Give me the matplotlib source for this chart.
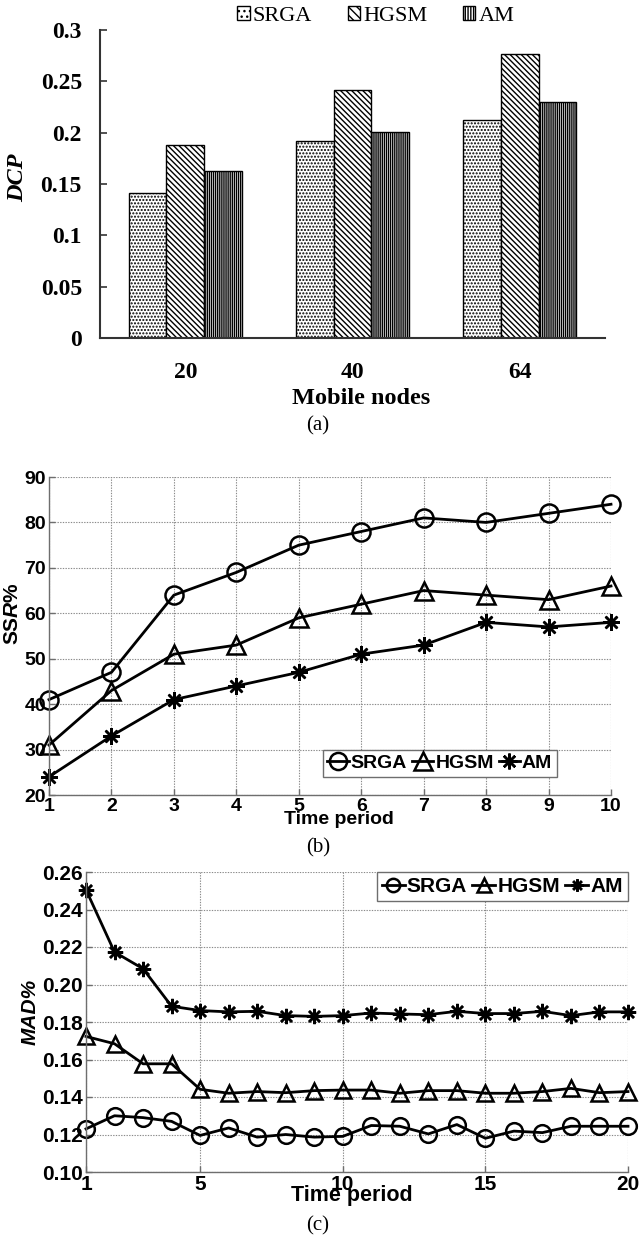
import matplotlib
matplotlib.use('Agg')
import matplotlib.pyplot as plt
from matplotlib.patches import Patch
import numpy as np

# ---------------- data ----------------
methods = ['SRGA', 'HGSM', 'AM']

# (a) DCP vs mobile nodes
nodes = ['20', '40', '64']
dcp_srga = [0.141, 0.192, 0.212]
dcp_hgsm = [0.188, 0.242, 0.277]
dcp_am = [0.163, 0.201, 0.230]
dcp_ticks = [0, 0.05, 0.1, 0.15, 0.2, 0.25, 0.3]
dcp_ticklabels = ['0', '0.05', '0.1', '0.15', '0.2', '0.25', '0.3']

# (b) SSR% vs time period
period_b = [1, 2, 3, 4, 5, 6, 7, 8, 9, 10]
ssr_srga = [41, 47, 64, 69, 75, 78, 81, 80, 82, 84]
ssr_hgsm = [31, 43, 51, 53, 59, 62, 65, 64, 63, 66]
ssr_am = [24, 33, 41, 44, 47, 51, 53, 58, 57, 58]
ssr_ticks = [20, 30, 40, 50, 60, 70, 80, 90]

# (c) MAD% vs time period
period_c = list(range(1, 21))
mad_srga = [0.123, 0.130, 0.129, 0.127, 0.1195, 0.1235, 0.1186, 0.120, 0.1186, 0.119,
            0.1248, 0.1244, 0.1203, 0.1253, 0.118, 0.1218, 0.121, 0.1244, 0.1244, 0.1244]
mad_hgsm = [0.1723, 0.1684, 0.1577, 0.1577, 0.1441, 0.142, 0.1429, 0.1423, 0.1434, 0.1437,
            0.1437, 0.142, 0.1434, 0.1434, 0.142, 0.142, 0.1429, 0.1446, 0.1423, 0.1429]
mad_am = [0.2505, 0.2173, 0.2084, 0.1884, 0.1861, 0.1854, 0.1857, 0.1834, 0.183, 0.1834,
          0.1848, 0.1843, 0.1839, 0.1857, 0.1845, 0.1845, 0.1857, 0.1834, 0.1854, 0.1854]
mad_ticks = [0.10, 0.12, 0.14, 0.16, 0.18, 0.20, 0.22, 0.24, 0.26]
mad_xticks = [1, 5, 10, 15, 20]

# ---------------- style ----------------
plt.rcParams['mathtext.fontset'] = 'custom'
plt.rcParams['mathtext.bf'] = 'Liberation Sans:bold'
plt.rcParams['mathtext.it'] = 'Liberation Sans:italic'
plt.rcParams['mathtext.bfit'] = 'Liberation Sans:italic:bold'
plt.rcParams['hatch.linewidth'] = 1.0

SERIF = 'Liberation Serif'
SANS = 'Liberation Sans'
GRAY = '#6e6e6e'

W, H = 640, 1237
fig = plt.figure(figsize=(W / 100, H / 100), dpi=100)


def box(l, t, r, b):
    return [l / W, 1 - b / H, (r - l) / W, (b - t) / H]


def fpos(x, y):
    return (x / W, 1 - y / H)


# ---------------- (a) ----------------
axa = fig.add_axes(box(100, 30, 605, 338))
x = np.arange(len(nodes))
bw = 0.225
hatches = ['.....', '\\\\\\\\\\\\', '||||||||']
series_a = [dcp_srga, dcp_hgsm, dcp_am]
for i, (vals, h) in enumerate(zip(series_a, hatches)):
    axa.bar(x + (i - 1) * bw, vals, bw, color='white', edgecolor='black',
            hatch=h, linewidth=1.0)
axa.set_xlim(-0.51, 2.51)
axa.set_ylim(0, 0.3)
axa.set_xticks(x)
axa.set_xticklabels(nodes)
axa.set_yticks(dcp_ticks)
axa.set_yticklabels(dcp_ticklabels)
for s in ['top', 'right']:
    axa.spines[s].set_visible(False)
for s in ['left', 'bottom']:
    axa.spines[s].set_color('#333333')
    axa.spines[s].set_linewidth(1.5)
axa.tick_params(axis='y', direction='in', length=5, width=1.2, pad=13, color='#333333')
axa.tick_params(axis='x', length=0, pad=17)
for lab in axa.get_xticklabels() + axa.get_yticklabels():
    lab.set_fontfamily(SERIF)
    lab.set_fontweight('bold')
    lab.set_fontsize(17)
axa.set_xlabel('Mobile nodes', family=SERIF, weight='bold', size=17.5, va='center')
axa.xaxis.set_label_coords(*fpos(361, 399), transform=fig.transFigure)
axa.set_ylabel('DCP', family=SERIF, weight='bold', style='italic', size=17.5,
               va='center', ha='center')
axa.yaxis.set_label_coords(*fpos(18, 178), transform=fig.transFigure)

leg_handles = [Patch(facecolor='white', edgecolor='black', hatch=h, linewidth=1.0)
               for h in ['...', '\\\\\\\\', '||||||']]
fig.legend(leg_handles, methods, loc='center', bbox_to_anchor=fpos(376, 16),
           ncol=3, frameon=False, prop={'family': SERIF, 'size': 16},
           handlelength=0.55, handleheight=0.55, handletextpad=0.15,
           columnspacing=1.6, borderpad=0)
fig.text(*fpos(318, 426), '(a)', family=SERIF, size=15, ha='center', va='center')


# ---------------- helper for line panels ----------------
def style_line_axes(ax, size):
    for s in ['top', 'right']:
        ax.spines[s].set_visible(False)
    for s in ['left', 'bottom']:
        ax.spines[s].set_color(GRAY)
        ax.spines[s].set_linewidth(1.0)
    ax.grid(True, linestyle=(0, (1.2, 1.2)), color='#8a8a8a', linewidth=0.8)
    ax.tick_params(direction='in', length=4, width=1.0, color=GRAY, pad=2,
                   labelsize=size)
    for lab in ax.get_xticklabels() + ax.get_yticklabels():
        lab.set_fontfamily(SANS)
        lab.set_fontweight('bold')


mk = dict(color='black', linewidth=2.0, markerfacecolor='none',
          markeredgecolor='black', clip_on=False)
markers = ['o', '^', (8, 2, 0)]

# ---------------- (b) ----------------
axb = fig.add_axes(box(49, 477, 611, 795))
series_b = [ssr_srga, ssr_hgsm, ssr_am]
for vals, m, lab in zip(series_b, markers, methods):
    ms = 13 if m != (8, 2, 0) else 12
    axb.plot(period_b, vals, marker=m, markersize=ms, markeredgewidth=1.8,
             label=lab, **mk)
axb.set_xlim(1, 10)
axb.set_ylim(20, 90)
axb.set_xticks(period_b)
axb.set_yticks(ssr_ticks)
style_line_axes(axb, 14)
axb.set_xlabel('Time period', family=SANS, weight='bold', size=14, va='center')
axb.xaxis.set_label_coords(*fpos(339, 820), transform=fig.transFigure)
axb.set_ylabel(r'$\mathbf{SS}\mathbfit{R}\mathbf{\%}$', size=15, va='center', ha='center')
axb.yaxis.set_label_coords(*fpos(12, 614), transform=fig.transFigure)
legb = axb.legend(loc='lower right', bbox_to_anchor=((557 - 49) / 562, (795 - 777) / 318),
                  ncol=3, borderaxespad=0, fancybox=False, framealpha=1,
                  edgecolor=GRAY, prop={'family': SANS, 'weight': 'bold', 'size': 14},
                  handlelength=1.1, handletextpad=0.1, columnspacing=0.25,
                  borderpad=0.25, markerscale=0.95)
legb.get_frame().set_linewidth(1.0)
fig.text(*fpos(318, 848), '(b)', family=SERIF, size=15, ha='center', va='center')

# ---------------- (c) ----------------
axc = fig.add_axes(box(86, 872, 628, 1172))
series_c = [mad_srga, mad_hgsm, mad_am]
for vals, m, lab in zip(series_c, markers, methods):
    ms = 12 if m != (8, 2, 0) else 11
    axc.plot(period_c, vals, marker=m, markersize=ms, markeredgewidth=1.8,
             label=lab, **mk)
axc.set_xlim(1, 20)
axc.set_ylim(0.10, 0.26)
axc.set_xticks(mad_xticks)
axc.set_yticks(mad_ticks)
axc.set_yticklabels(['%.2f' % v for v in mad_ticks])
style_line_axes(axc, 15)
axc.set_xlabel('Time period', family=SANS, weight='bold', size=15.5, va='center')
axc.xaxis.set_label_coords(*fpos(352, 1196), transform=fig.transFigure)
axc.set_ylabel('MAD%', family=SANS, weight='bold', style='italic', size=15,
               va='center', ha='center')
axc.yaxis.set_label_coords(*fpos(30, 1012), transform=fig.transFigure)
legc = axc.legend(loc='upper right', ncol=3, borderaxespad=0, fancybox=False,
                  framealpha=1, edgecolor=GRAY,
                  prop={'family': SANS, 'weight': 'bold', 'size': 15},
                  handlelength=1.1, handletextpad=0.1, columnspacing=0.25,
                  borderpad=0.25, markerscale=0.8)
legc.get_frame().set_linewidth(1.0)
fig.text(*fpos(318, 1226), '(c)', family=SERIF, size=15, ha='center', va='center')

fig.savefig('out.png', dpi=100)
